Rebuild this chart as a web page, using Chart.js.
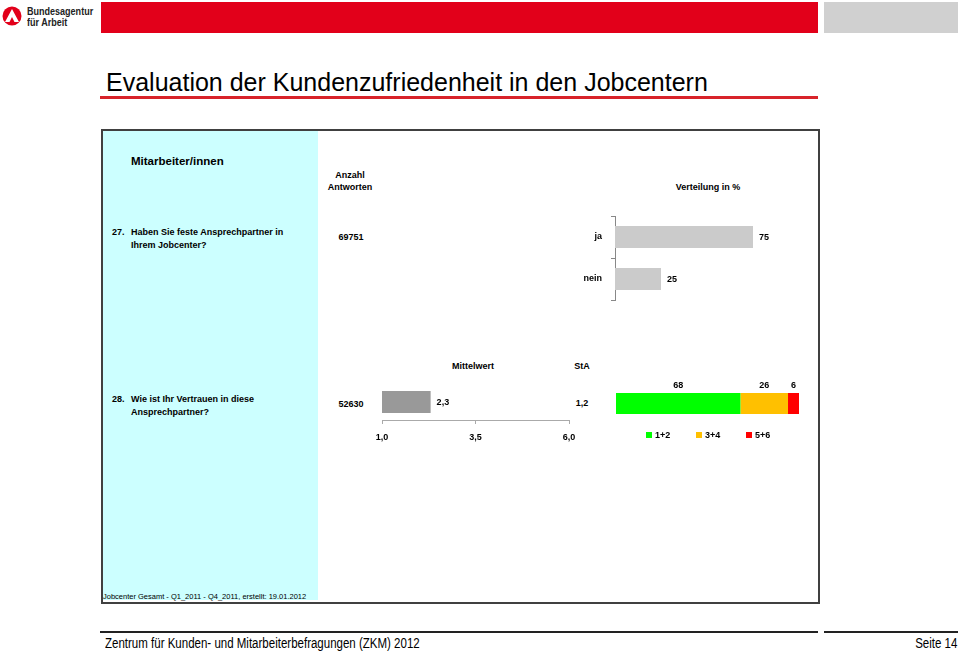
<!DOCTYPE html>
<html lang="de">
<head>
<meta charset="utf-8">
<title>Evaluation der Kundenzufriedenheit in den Jobcentern</title>
<script src="https://cdn.jsdelivr.net/npm/chart.js@4.4.1/dist/chart.umd.min.js"></script>
<style>
  body { margin: 0; width: 960px; height: 651px; position: relative; overflow: hidden; background: #fff;
         font-family: "Liberation Sans", Arial, sans-serif; color: #000; }
  .abs { position: absolute; white-space: nowrap; }
  .b9 { font-size: 9px; font-weight: bold; line-height: 12px; }
  .ctr { text-align: center; width: 100px; }
  .narrow { font-size: 14px; line-height: 16px; transform: scaleX(0.822); }
  canvas { position: absolute; }
  #legend28 { position: absolute; left: 646px; top: 429px; display: flex; font-size: 9px; font-weight: bold; line-height: 12px; }
  #legend28 span.item { width: 50px; display: flex; align-items: center; }
  #legend28 i { display: inline-block; width: 6px; height: 6px; margin-right: 3px; }
</style>
</head>
<body>

<!-- Kopfzeile -->
<svg class="abs" style="left:2px;top:6px" width="20" height="20" viewBox="0 0 20 20">
  <circle cx="10" cy="10" r="9.5" fill="#e2001a"/>
  <path d="M10 3 L17 16 L12.5 16 L10 11 L7.5 16 L3 16 Z" fill="#fff"/>
</svg>
<div class="abs" style="left:27px;top:6px;font-size:11px;font-weight:bold;line-height:11px;color:#222;transform:scaleX(0.82);transform-origin:left top">Bundesagentur<br>für Arbeit</div>
<div class="abs" style="left:101px;top:2px;width:717px;height:31px;background:#e2001a"></div>
<div class="abs" style="left:824px;top:2px;width:134px;height:31px;background:#d0d0d0"></div>

<!-- Titel -->
<div class="abs" style="left:106px;top:68px;font-size:25px;line-height:29px">Evaluation der Kundenzufriedenheit in den Jobcentern</div>
<div class="abs" style="left:100px;top:96px;width:718px;height:3px;background:#d8232a"></div>

<!-- Rahmen -->
<div class="abs" style="left:101px;top:129px;width:715px;height:471px;border:2px solid #404040"></div>
<div class="abs" style="left:103px;top:131px;width:215px;height:469px;background:#ccffff"></div>

<div class="abs" style="left:131px;top:154px;font-size:11.5px;font-weight:bold;line-height:14px">Mitarbeiter/innen</div>
<div class="abs b9 ctr" style="left:300px;top:169px">Anzahl<br>Antworten</div>
<div class="abs b9 ctr" style="left:658px;top:181px">Verteilung in %</div>

<!-- Frage 27 -->
<div class="abs b9" style="left:112px;top:226px">27.</div>
<div class="abs b9" style="left:131px;top:225.5px;line-height:13px">Haben Sie feste Ansprechpartner in<br>Ihrem Jobcenter?</div>
<div class="abs b9 ctr" id="n27" style="left:301px;top:231px"></div>
<canvas id="c27" width="250" height="96" style="left:560px;top:210px"></canvas>

<!-- Frage 28 -->
<div class="abs b9 ctr" style="left:423px;top:360px">Mittelwert</div>
<div class="abs b9 ctr" style="left:532px;top:360px">StA</div>
<div class="abs b9" style="left:112px;top:393px">28.</div>
<div class="abs b9" style="left:131px;top:392.5px;line-height:13px">Wie ist Ihr Vertrauen in diese<br>Ansprechpartner?</div>
<div class="abs b9 ctr" id="n28" style="left:301px;top:398px"></div>
<div class="abs b9 ctr" id="sta28" style="left:532px;top:397px"></div>
<canvas id="c28mean" width="212" height="66" style="left:372px;top:378px"></canvas>
<canvas id="c28dist" width="220" height="60" style="left:600px;top:370px"></canvas>
<div id="legend28"></div>

<div class="abs" style="left:103px;top:592px;font-size:7.5px;line-height:10px">Jobcenter Gesamt - Q1_2011 - Q4_2011, erstellt: 19.01.2012</div>

<!-- Fusszeile -->
<div class="abs" style="left:100px;top:631px;width:718px;height:2px;background:#222"></div>
<div class="abs" style="left:824px;top:631px;width:134px;height:2px;background:#222"></div>
<div class="abs narrow" style="left:105px;top:635px;transform-origin:left top">Zentrum für Kunden- und Mitarbeiterbefragungen (ZKM) 2012</div>
<div class="abs narrow" style="right:3px;top:635px;transform-origin:right top">Seite 14</div>

<script>
// Daten Frage 27
const q27Categories = ['ja', 'nein'];
const q27Values = [75, 25];
const q27Count = 69751;

// Daten Frage 28
const q28Count = 52630;
const q28Label = ['Vertrauen'];
const q28Mean = [2.3];
const q28Sta = 1.2;
const meanTicks = [1.0, 3.5, 6.0];
const q28Groups = ['1+2', '3+4', '5+6'];
const q28Shares = [68, 26, 6];

const groupColors = ['#00ff00', '#ffc000', '#ff0000'];
const labelFont = { family: 'Liberation Sans', weight: 'bold', size: 9 };
const komma = v => v.toFixed(1).replace('.', ',');

document.getElementById('n27').textContent = q27Count;
document.getElementById('n28').textContent = q28Count;
document.getElementById('sta28').textContent = komma(q28Sta);

// Achsen-Innenabstaende nicht in das Layout einrechnen
const noScalePadding = s => { s.paddingTop = 0; s.paddingBottom = 0; s.paddingLeft = 0; s.paddingRight = 0; };

// Werte rechts neben die Balken schreiben
const rightLabels = {
  id: 'rightLabels',
  afterDatasetsDraw(chart, args, opts) {
    const ctx = chart.ctx;
    ctx.save();
    ctx.font = 'bold 9px "Liberation Sans"';
    ctx.fillStyle = '#000';
    ctx.textAlign = 'left';
    ctx.textBaseline = 'middle';
    chart.getDatasetMeta(0).data.forEach((bar, i) => {
      const v = chart.data.datasets[0].data[i];
      ctx.fillText(opts.format ? opts.format(v) : v, bar.x + 6, bar.y + 1);
    });
    ctx.restore();
  }
};

// Werte ueber den gestapelten Segmenten
const topLabels = {
  id: 'topLabels',
  afterDatasetsDraw(chart) {
    const ctx = chart.ctx;
    ctx.save();
    ctx.font = 'bold 9px "Liberation Sans"';
    ctx.fillStyle = '#000';
    ctx.textAlign = 'center';
    ctx.textBaseline = 'middle';
    chart.data.datasets.forEach((ds, d) => {
      chart.getDatasetMeta(d).data.forEach((bar, i) => {
        ctx.fillText(ds.data[i], (bar.x + bar.base) / 2, bar.y - bar.height / 2 - 7);
      });
    });
    ctx.restore();
  }
};

const noPlugins = { legend: { display: false }, tooltip: { enabled: false } };

// Frage 27: ja / nein
new Chart(document.getElementById('c27'), {
  type: 'bar',
  data: {
    labels: q27Categories,
    datasets: [{ data: q27Values, backgroundColor: '#cbcbcb', barPercentage: 0.52, categoryPercentage: 1 }]
  },
  options: {
    indexAxis: 'y', responsive: false, animation: false, devicePixelRatio: 1,
    layout: { padding: { top: 6, bottom: 6, left: 0, right: 11 } },
    scales: {
      x: { display: false, min: 0, max: 100 },
      y: {
        afterFit: s => { s.width = 55; noScalePadding(s); },
        border: { color: '#888' },
        grid: { drawOnChartArea: false, tickLength: 4, color: '#888', offset: true },
        ticks: { padding: 9, color: '#000', font: labelFont }
      }
    },
    plugins: noPlugins
  },
  plugins: [rightLabels]
});

// Frage 28: Mittelwert
new Chart(document.getElementById('c28mean'), {
  type: 'bar',
  data: {
    labels: q28Label,
    datasets: [{ data: q28Mean, backgroundColor: '#999999', barPercentage: 0.61, categoryPercentage: 1 }]
  },
  options: {
    indexAxis: 'y', responsive: false, animation: false, devicePixelRatio: 1,
    layout: { padding: { top: 6, bottom: 0, left: 10, right: 15 } },
    scales: {
      x: {
        min: 1, max: 6,
        afterBuildTicks: s => { s.ticks = meanTicks.map(v => ({ value: v })); },
        afterFit: s => { s.height = 24; noScalePadding(s); },
        border: { color: '#aaa' },
        grid: { drawOnChartArea: false, tickLength: 4, color: '#aaa' },
        ticks: { padding: 8, color: '#000', font: labelFont, callback: v => komma(v) }
      },
      y: { display: false }
    },
    plugins: Object.assign({}, noPlugins, { rightLabels: { format: komma } })
  },
  plugins: [rightLabels]
});

// Frage 28: Verteilung gestapelt
new Chart(document.getElementById('c28dist'), {
  type: 'bar',
  data: {
    labels: q28Label,
    datasets: q28Groups.map((g, i) => ({
      label: g, data: [q28Shares[i]], backgroundColor: groupColors[i],
      barPercentage: 0.512, categoryPercentage: 1
    }))
  },
  options: {
    indexAxis: 'y', responsive: false, animation: false, devicePixelRatio: 1,
    layout: { padding: { top: 13, bottom: 6, left: 16, right: 21 } },
    scales: {
      x: { display: false, stacked: true, min: 0, max: 100 },
      y: { display: false, stacked: true }
    },
    plugins: noPlugins
  },
  plugins: [topLabels]
});

// Legende
const legend = document.getElementById('legend28');
q28Groups.forEach((g, i) => {
  const item = document.createElement('span');
  item.className = 'item';
  item.innerHTML = '<i style="background:' + groupColors[i] + '"></i>' + g;
  legend.appendChild(item);
});
</script>
</body>
</html>
